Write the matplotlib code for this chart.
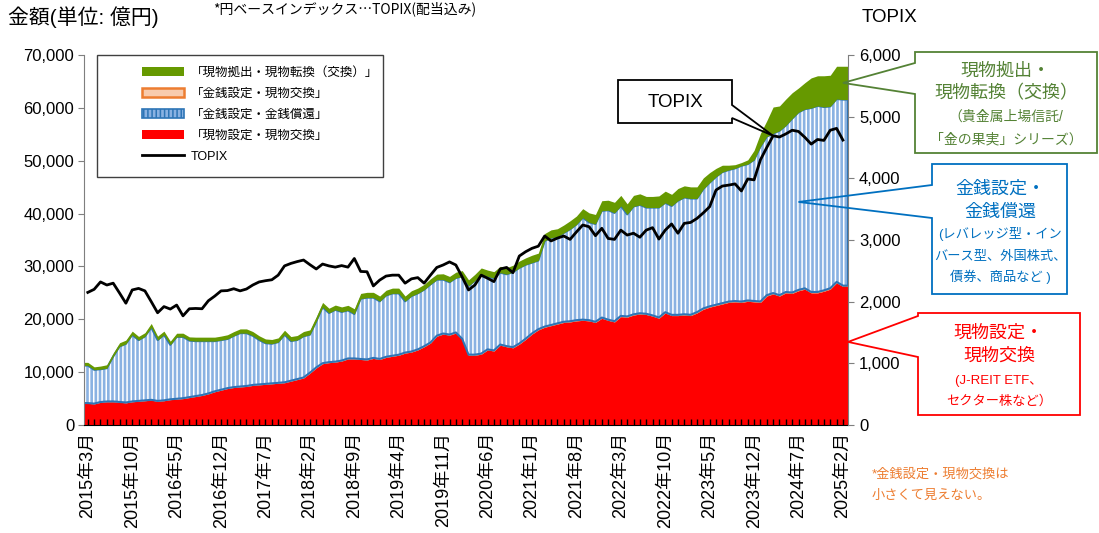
import numpy as np
import pandas as pd
import matplotlib
matplotlib.use("Agg")
import matplotlib.pyplot as plt
from matplotlib.patches import Patch, Polygon, Rectangle
from matplotlib.lines import Line2D
from matplotlib.ticker import FuncFormatter

plt.rcParams['font.family'] = ['Liberation Sans', 'Noto Sans CJK JP', 'DejaVu Sans']
plt.rcParams['hatch.color'] = 'white'
plt.rcParams['hatch.linewidth'] = 1.1

# monthly, 2015-03 .. 2025-02 (億円)
months = pd.date_range('2015-03-01', periods=120, freq='MS')

# 現物設定・現物交換
red = [
    4100, 4000, 4300, 4400, 4400, 4300, 4200, 4400, 4500, 4600,
    4700, 4500, 4600, 4800, 4900, 5000, 5200, 5400, 5600, 5900,
    6300, 6600, 6900, 7100, 7200, 7300, 7500, 7600, 7700, 7800,
    7900, 8000, 8300, 8600, 8900, 9800, 10800, 11600, 11800, 11900,
    12100, 12500, 12500, 12400, 12300, 12600, 12400, 12800, 13000, 13200,
    13600, 13800, 14200, 14800, 15500, 16800, 17200, 17000, 17400, 16200,
    13200, 13200, 13400, 14200, 14000, 15100, 14800, 14600, 15300, 16200,
    17200, 18000, 18500, 18800, 19100, 19400, 19500, 19700, 19800, 19700,
    19400, 20200, 19800, 19500, 20500, 20400, 20800, 21000, 20900, 20600,
    20200, 21200, 20700, 20700, 20800, 20700, 21200, 21900, 22300, 22600,
    22900, 23200, 23300, 23200, 23400, 23300, 23200, 24400, 24800, 24400,
    25000, 24900, 25400, 25700, 25000, 25000, 25300, 25700, 26900, 26200]

# 金銭設定・現物交換 (too small to see)
orange = [
    50, 50, 50, 50, 60, 60, 60, 60, 60, 60,
    60, 60, 60, 60, 60, 70, 70, 70, 70, 70,
    70, 70, 70, 70, 80, 80, 80, 80, 80, 80,
    80, 80, 80, 80, 90, 90, 90, 90, 90, 90,
    90, 90, 90, 90, 100, 100, 100, 100, 100, 100,
    100, 100, 100, 100, 100, 100, 110, 110, 110, 110,
    110, 110, 110, 110, 110, 120, 120, 120, 120, 120,
    120, 120, 120, 120, 130, 130, 130, 130, 130, 130,
    130, 130, 130, 130, 140, 140, 140, 140, 140, 140,
    140, 140, 140, 140, 150, 150, 150, 150, 150, 150,
    150, 150, 150, 150, 160, 160, 160, 160, 160, 160,
    160, 160, 160, 160, 170, 170, 170, 170, 170, 170]

# 金銭設定・金銭償還
blue = [
    7100, 6400, 6200, 6300, 8500, 10500, 11100, 12600, 11500, 12100,
    13700, 11500, 12400, 10300, 11700, 11600, 10700, 10400, 10200, 9900,
    9500, 9400, 9300, 9700, 10100, 10000, 9300, 8400, 7700, 7500,
    7700, 9000, 7500, 7400, 7800, 7200, 8700, 10600, 9300, 9800,
    9200, 9100, 8400, 11400, 11700, 11400, 10900, 11600, 11800, 11600,
    9700, 10500, 10600, 10700, 11000, 10600, 10200, 9900, 10300, 11800,
    13000, 14000, 15000, 13800, 13700, 13600, 13600, 14200, 14300, 14000,
    13400, 13000, 16200, 16500, 16400, 16800, 17400, 18100, 19300, 18500,
    18500, 20200, 20700, 20500, 20800, 19300, 20400, 20500, 20100, 20400,
    20800, 20700, 20600, 21600, 22100, 22000, 21500, 22600, 23400, 24200,
    24800, 24900, 25100, 25700, 25800, 26700, 29300, 30000, 30200, 31100,
    31500, 32900, 33600, 33900, 34800, 35200, 34700, 34400, 34600, 35200]

# 現物拠出・現物転換（交換）
green = [
    600, 550, 600, 650, 650, 700, 700, 700, 700, 700,
    750, 750, 700, 700, 700, 700, 700, 750, 750, 750,
    750, 750, 800, 800, 800, 800, 800, 800, 800, 800,
    800, 850, 850, 850, 900, 900, 900, 900, 900, 900,
    950, 950, 1000, 1000, 1000, 1000, 1000, 1000, 1000, 1000,
    1000, 1000, 1000, 1000, 1050, 1050, 1100, 1100, 1100, 1100,
    1150, 1200, 1200, 1200, 1200, 1200, 1250, 1300, 1300, 1300,
    1400, 1400, 1400, 1500, 1500, 1500, 1600, 1600, 1700, 1800,
    1800, 1900, 1900, 2000, 2000, 2000, 2100, 2100, 2100, 2100,
    2200, 2200, 2200, 2300, 2200, 2200, 2200, 2100, 1900, 1600,
    1300, 900, 700, 600, 800, 1800, 2500, 3000, 5000, 4700,
    5000, 4900, 4600, 5000, 5700, 5700, 5900, 5900, 6200, 6300]

# TOPIX (配当込み)
topix = [
    2150, 2200, 2320, 2270, 2300, 2140, 1975, 2190, 2215, 2175,
    2000, 1820, 1920, 1880, 1945, 1770, 1885, 1890, 1885, 2015,
    2090, 2175, 2180, 2210, 2175, 2205, 2270, 2320, 2340, 2355,
    2430, 2580, 2620, 2650, 2675, 2600, 2530, 2610, 2580, 2560,
    2585, 2560, 2700, 2490, 2485, 2255, 2350, 2415, 2430, 2430,
    2300, 2370, 2390, 2300, 2430, 2555, 2595, 2645, 2595, 2400,
    2190, 2270, 2430, 2380, 2325, 2530, 2555, 2470, 2740, 2810,
    2865, 2900, 3065, 2985, 3030, 3065, 3010, 3130, 3243, 3215,
    3070, 3190, 3025, 3010, 3160, 3080, 3110, 3045, 3160, 3200,
    3015, 3160, 3260, 3110, 3270, 3285, 3350, 3440, 3540, 3810,
    3875, 3890, 3910, 3795, 3990, 3975, 4300, 4500, 4690, 4670,
    4720, 4780, 4760, 4665, 4555, 4630, 4615, 4780, 4810, 4620]

labels = ["「現物拠出・現物転換（交換）」", "「金銭設定・現物交換」",
          "「金銭設定・金銭償還」", "「現物設定・現物交換」", "TOPIX"]

C_GREEN = '#669900'
C_ORANGE = '#ED7D31'
C_BLUE = '#8AB2E2'
C_BLUE_EDGE = '#2E75B6'
C_RED = '#FF0000'

W, H = 1099, 533


def P(x, y):
    # pixel (top-left origin) -> figure fraction
    return (x / W, 1 - y / H)


fig = plt.figure(figsize=(W / 100, H / 100), dpi=100)
ax = fig.add_axes([84 / W, 108 / H, (848 - 84) / W, 370 / H])
ax2 = ax.twinx()

n = len(red)
x = np.arange(n)
x0, x1 = -0.6, n - 1 + 0.8
xe = np.r_[x0, x, x1]


def pad(a):
    a = np.asarray(a, float)
    return np.r_[a[0], a, a[-1]]


r = pad(red)
o = pad(orange)
b = pad(blue)
g = pad(green)

ax.fill_between(xe, 0, r, color=C_RED, lw=0)
ax.fill_between(xe, r, r + o, color=C_ORANGE, lw=0)
ax.fill_between(xe, r + o, r + o + b, facecolor=C_BLUE, edgecolor='white',
                hatch='||||', lw=0)
ax.fill_between(xe, r + o, r + o + b, facecolor='none', edgecolor=C_BLUE_EDGE, lw=1.5)
ax.fill_between(xe, r + o + b, r + o + b + g, color=C_GREEN, lw=0)

ax2.plot(x, topix, color='black', lw=2)

ax.set_xlim(x0, x1)
ax.set_ylim(0, 70000)
ax.set_yticks(np.arange(0, 70001, 10000))
ax.yaxis.set_major_formatter(FuncFormatter(lambda v, p: f"{v:,.0f}"))
ax2.set_ylim(0, 6000)
ax2.set_yticks(np.arange(0, 6001, 1000))
ax2.yaxis.set_major_formatter(FuncFormatter(lambda v, p: f"{v:,.0f}"))

ax.set_xticks(x)
ax.set_xticklabels([f"{d.year}年{d.month}月" if i % 7 == 0 else ""
                    for i, d in enumerate(months)])
ax.tick_params(axis='x', direction='in', length=4, width=1, pad=5,
               labelsize=13, labelrotation=90)
ax.tick_params(axis='y', direction='out', length=4, color='#7f7f7f',
               labelsize=12, pad=3)
ax2.tick_params(axis='y', direction='out', length=4, color='#7f7f7f',
                labelsize=12, pad=4)

for a in (ax, ax2):
    a.spines['top'].set_visible(False)
ax.spines['right'].set_visible(False)
ax2.spines['left'].set_visible(False)
ax2.spines['bottom'].set_visible(False)
ax.spines['left'].set_color('#7f7f7f')
ax2.spines['right'].set_color('#7f7f7f')
ax.spines['bottom'].set_color('black')
ax.spines['bottom'].set_zorder(5)

# legend
fig.add_artist(Rectangle(P(97, 177), (383 - 97) / W, (177 - 55) / H,
                         transform=fig.transFigure, facecolor='white',
                         edgecolor='#404040', lw=1, zorder=4))
handles = [
    Patch(facecolor=C_GREEN, lw=0),
    Patch(facecolor='#F8CBAD', edgecolor=C_ORANGE, lw=1.8),
    Patch(facecolor=C_BLUE, edgecolor=C_BLUE_EDGE, hatch='||||', lw=1.2),
    Patch(facecolor=C_RED, lw=0),
    Line2D([], [], color='black', lw=2),
]
leg = fig.legend(handles, labels, loc='upper left', bbox_to_anchor=P(133, 58),
                 frameon=False, fontsize=9, handlelength=3.4, handleheight=0.65,
                 handletextpad=0.5, labelspacing=0.72, borderpad=0.2)
leg.set_zorder(6)

# titles
fig.text(*P(8, 17), '金額(単位: 億円)', fontsize=15, va='center', ha='left')
fig.text(*P(213, 9), '*円ベースインデックス…TOPIX(配当込み)', fontsize=10,
         va='center', ha='left', family=['Noto Sans CJK JP', 'DejaVu Sans'])
fig.text(*P(862, 18), 'TOPIX', fontsize=13.5, va='center', ha='left')


def callout(box, side, base, tip, color, lw=1.3):
    bx0, by0, bx1, by1 = box
    fig.add_artist(Rectangle(P(bx0, by1), (bx1 - bx0) / W, (by1 - by0) / H,
                             transform=fig.transFigure, facecolor='white',
                             edgecolor='none', zorder=7))
    w1, w2 = base
    if side == 'left':
        pts = [(bx0, w1), (bx0, by0), (bx1, by0), (bx1, by1), (bx0, by1),
               (bx0, w2), tip]
    else:
        pts = [(bx1, w1), (bx1, by0), (bx0, by0), (bx0, by1), (bx1, by1),
               (bx1, w2), tip]
    fig.add_artist(Polygon([P(*p) for p in pts], closed=True, fill=False,
                           edgecolor=color, lw=lw, transform=fig.transFigure,
                           zorder=8))


def data_px(axis, xv, yv):
    dx, dy = axis.transData.transform((xv, yv))
    return dx, H - dy


stack_top = np.asarray(red) + np.asarray(orange) + np.asarray(blue)

callout((618, 80, 732, 123), 'right', (105, 118),
        data_px(ax2, 108, topix[108]), 'black')
fig.text(*P(675, 102), 'TOPIX', fontsize=13.5, ha='center', va='center', zorder=9)

callout((915, 52, 1097, 153), 'left', (63, 94),
        data_px(ax, n - 1, stack_top[-1] + green[-1] / 2), '#548235')
for yy, s, fs in [(71, '現物拠出・', 13), (94, '現物転換（交換）', 13),
                  (117, '（貴金属上場信託/', 10), (139, '「金の果実」シリーズ）', 10)]:
    fig.text(*P(1006, yy), s, fontsize=fs, color='#548235', ha='center',
             va='center', zorder=9)

callout((932, 164, 1067, 294), 'left', (185, 218),
        data_px(ax, 112, red[112] + blue[112] / 2), '#0070C0')
for yy, s, fs in [(189, '金銭設定・', 13), (212, '金銭償還', 13),
                  (234, '(レバレッジ型・イン', 9.5), (257, 'バース型、外国株式、', 9.5),
                  (277, '債券、商品など )', 9.5)]:
    fig.text(*P(1000, yy), s, fontsize=fs, color='#0070C0', ha='center',
             va='center', zorder=9)

callout((918, 313, 1080, 415), 'left', (316, 357),
        data_px(ax, x1, red[-1] * 0.6), C_RED)
for yy, s, fs in [(333, '現物設定・', 13), (356, '現物交換', 13),
                  (381, '(J-REIT ETF、', 9.5), (401, 'セクター株など）', 9.5)]:
    fig.text(*P(999, yy), s, fontsize=fs, color=C_RED, ha='center',
             va='center', zorder=9)

fig.text(*P(872, 474), '*金銭設定・現物交換は', fontsize=9.5, color=C_ORANGE,
         ha='left', va='center')
fig.text(*P(872, 496), '小さくて見えない。', fontsize=9.5, color=C_ORANGE,
         ha='left', va='center')

fig.savefig('out.png', dpi=100)
